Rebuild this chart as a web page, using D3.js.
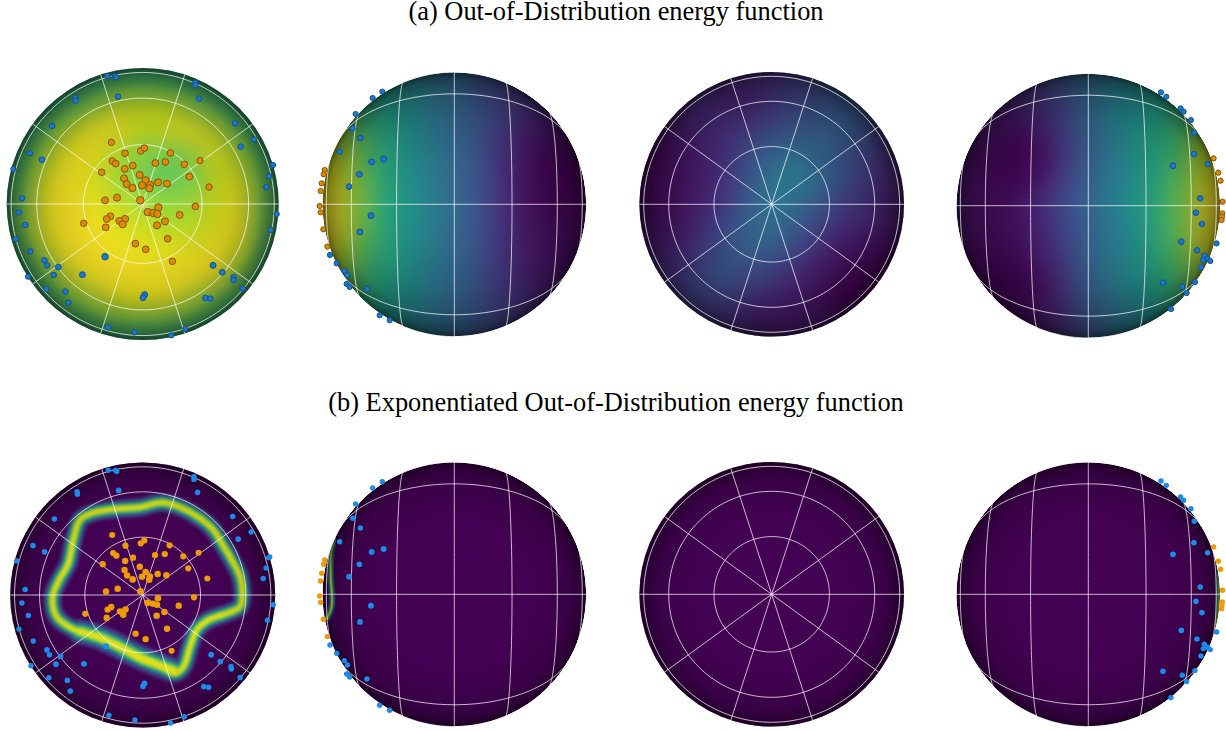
<!DOCTYPE html>
<html>
<head>
<meta charset="utf-8">
<script src="https://cdn.jsdelivr.net/npm/d3@7"></script>
<style>
  html, body { margin: 0; background: #fff; }
  svg { display: block; }
  text { font-family: "Liberation Serif", serif; fill: #000; }
</style>
</head>
<body>
<div id="chart"></div>
<script>
const titles = ['(a) Out-of-Distribution energy function', '(b) Exponentiated Out-of-Distribution energy function'];

// energy on a 13x13 lattice, in % of the colour range
const energyPolar = [
  [60,60,60,60,60,60,60,60,60,60,60,60,60],
  [60,60,60,60,64,70,72,70,64,60,60,60,60],
  [60,60,62,72,84,92,92,92,84,72,62,60,60],
  [60,60,74,92,99,98,92,94,99,92,74,60,60],
  [60,66,88,99,98,88,82,78,84,97,88,66,60],
  [60,74,96,100,95,86,80,76,80,92,96,74,60],
  [60,78,98,100,97,92,87,84,86,94,99,78,60],
  [60,78,98,100,100,97,93,90,91,96,100,76,60],
  [60,66,90,100,100,100,98,97,98,100,95,66,60],
  [60,60,74,94,100,100,100,100,100,98,78,60,60],
  [60,60,62,76,88,94,96,96,88,76,62,60,60],
  [60,60,60,60,66,72,74,72,66,60,60,60,60],
  [60,60,60,60,60,60,60,60,60,60,60,60,60]
];
const energyLeft = [
  [70,70,62,54,47,40,33,26,20,14,10,8,8],
  [70,70,62,54,47,40,33,26,20,14,10,8,8],
  [78,78,68,58,49,40,33,26,20,14,10,8,8],
  [88,88,74,61,51,41,33,25,17,8,4,3,3],
  [95,95,79,63,51,42,33,25,14,5,1,0,0],
  [98,98,82,64,52,42,33,25,14,4,0,0,0],
  [100,100,84,65,53,43,33,25,14,5,1,1,1],
  [100,100,82,64,53,42,33,25,14,6,3,2,2],
  [96,96,78,63,52,42,33,25,15,7,4,3,3],
  [88,88,72,61,51,41,33,25,16,9,5,4,4],
  [78,78,67,58,48,40,33,25,18,12,8,6,6],
  [70,70,60,52,45,38,32,25,20,15,10,8,8],
  [70,70,60,52,45,38,32,25,20,15,10,8,8]
];
const energyBack = [
  [14,14,16,14,12,12,14,16,20,22,20,14,14],
  [12,12,14,12,10,10,14,18,22,26,22,14,12],
  [6,6,10,12,10,10,16,22,26,30,26,14,10],
  [4,4,6,10,14,18,24,28,30,30,24,14,8],
  [2,2,4,8,14,24,32,36,32,26,20,12,6],
  [2,2,4,8,14,26,40,42,34,24,16,10,6],
  [2,2,4,10,16,28,38,34,26,18,14,8,6],
  [4,4,6,12,22,32,36,28,20,12,10,6,4],
  [8,8,10,18,26,30,28,20,12,6,3,2,2],
  [12,12,16,22,26,24,18,12,6,2,0,0,0],
  [14,14,18,20,20,14,10,8,4,0,0,2,4],
  [16,14,14,14,12,8,6,6,6,6,8,10,12],
  [18,16,14,14,12,8,8,8,8,8,10,12,14]
];
const energyRight = [
  [10,10,14,18,22,28,34,40,46,50,58,64,64],
  [10,10,12,14,18,26,34,42,48,53,62,70,70],
  [8,8,8,8,12,20,32,42,50,58,66,78,78],
  [8,6,4,2,6,18,30,42,52,61,72,88,88],
  [6,4,1,0,3,16,28,41,51,62,76,95,95],
  [6,4,2,1,6,20,30,41,51,64,80,98,98],
  [6,4,3,5,12,22,32,42,52,66,82,100,100],
  [6,4,3,4,10,20,30,41,51,66,82,100,100],
  [6,3,2,2,8,18,30,41,51,64,80,97,97],
  [6,3,0,0,4,16,30,41,50,61,74,90,90],
  [10,6,1,0,4,14,28,38,46,56,68,80,80],
  [14,10,6,4,6,14,26,36,44,50,60,70,70],
  [14,12,8,8,10,16,26,34,42,48,56,64,64]
];
const energyFlat = [[0]];

// points as read in each view's own units
const orangePolar = [[334,247],[375,280],[422,273],[433,264],[511,279],[600,302],[337,303],[347,311],[305,337],[374,327],[398,317],[466,309],[496,306],[553,313],[568,350],[419,345],[372,355],[437,361],[380,372],[397,384],[426,376],[450,375],[448,385],[474,367],[501,371],[627,381],[351,413],[315,421],[421,421],[475,442],[586,439],[443,456],[460,459],[472,462],[539,465],[331,469],[320,477],[375,477],[358,483],[368,493],[251,490],[317,502],[471,496],[495,484],[503,536],[406,551],[437,568],[517,604]];
const bluePolar = [[322,48],[344,48],[348,52],[586,68],[586,76],[226,114],[227,122],[354,110],[597,116],[156,198],[705,190],[762,238],[722,260],[90,280],[126,299],[40,327],[815,317],[819,315],[808,349],[799,381],[66,415],[56,457],[830,462],[76,495],[812,510],[47,537],[91,574],[133,601],[141,616],[175,621],[315,590],[161,645],[247,644],[639,616],[667,637],[84,650],[700,652],[701,660],[139,687],[196,695],[728,686],[205,728],[434,704],[429,713],[616,714],[631,716],[324,802],[404,817],[514,826],[556,807]];
const orangeLeft = [[44,330],[41,343],[35,370],[32,393],[29,438],[32,457],[40,508],[52,560]];
const blueLeft = [[217,95],[188,114],[137,162],[128,205],[151,234],[89,275],[221,297],[185,306],[148,343],[117,380],[183,467],[150,516],[60,585],[80,610],[103,632],[112,645],[110,672],[119,681],[171,687],[209,766],[239,781]];
const orangeRight = [[806,295],[820,338],[827,362],[833,425],[832,460],[831,470],[830,480]];
const blueRight = [[648,97],[664,110],[707,145],[716,155],[738,180],[748,218],[747,282],[788,312],[684,317],[766,415],[753,458],[771,492],[709,545],[815,550],[756,571],[778,587],[775,600],[788,596],[796,603],[768,622],[654,668],[750,666],[712,680],[725,699],[678,747]];

// the bright level set of the exponentiated energy
const contourPolar = [[485,158],[540,172],[600,205],[640,240],[665,280],[695,330],[720,380],[727,430],[720,470],[680,490],[625,510],[590,540],[570,590],[550,650],[525,670],[480,650],[420,628],[370,600],[320,575],[270,555],[215,535],[170,500],[158,440],[175,395],[205,340],[220,270],[240,210],[275,190],[340,178],[420,172]];
const contourBroad = [[240,545],[300,562],[350,585],[400,612],[460,638],[520,660]];
const contourLeft = [[70,265],[58,310],[57,380],[60,470],[45,510]];
const contourRight = [[812,300],[819,345],[820,420],[818,490],[810,540]];

const contourLevels = [16, 32, 52, 75, 96];

const P = 7; // camera distance, in sphere radii
const W = 1226, H = 731;

function cameraRaw(lambda, phi) {
  const cosc = Math.cos(phi) * Math.cos(lambda);
  const k = Math.sqrt(P * P - 1) / (P - cosc);
  return [k * Math.cos(phi) * Math.sin(lambda), k * Math.sin(phi)];
}

const color = d3.scaleSequential(d3.interpolateViridis).domain([0, 100]);

const polarUnits = { cx: 428, cy: 432, r: 408 };
const leftUnits = { cx: 433, cy: 433, r: 397 };
const rightUnits = { cx: 430, cy: 437, r: 397 };
const contourUnits = { cx: 428, cy: 435, r: 397 };

const panels = [
  { cx: 142.7, cy: 204, R: 136, view: 'polar', energy: energyPolar, units: polarUnits, orange: orangePolar, blue: bluePolar, edged: true },
  { cx: 454.3, cy: 204.3, R: 132.3, view: 'side', energy: energyLeft, units: leftUnits, orange: orangeLeft, blue: blueLeft, edged: true },
  { cx: 771.7, cy: 204.3, R: 132.3, view: 'polar', energy: energyBack, units: polarUnits, orange: [], blue: [], edged: true },
  { cx: 1088.3, cy: 205.7, R: 132.3, view: 'side', energy: energyRight, units: rightUnits, orange: orangeRight, blue: blueRight, edged: true },
  { cx: 142.7, cy: 595, R: 132.5, view: 'polar', energy: energyFlat, units: polarUnits, orange: orangePolar, blue: bluePolar, contour: contourPolar, contourExtra: contourBroad, widths: [19, 14, 11, 8, 5] },
  { cx: 454.3, cy: 594.3, R: 132.3, view: 'side', energy: energyFlat, units: leftUnits, orange: orangeLeft, blue: blueLeft, contour: contourLeft, widths: [7, 5, 3.5, 2.5, 1.2] },
  { cx: 771.7, cy: 594.3, R: 132.3, view: 'polar', energy: energyFlat, units: polarUnits, orange: [], blue: [] },
  { cx: 1088.3, cy: 594.3, R: 132.3, view: 'side', energy: energyFlat, units: rightUnits, orange: orangeRight, blue: blueRight, contour: contourRight, widths: [7, 5, 3.5, 2.5, 1.2] }
];

const svg = d3.select('#chart').append('svg').attr('width', W).attr('height', H);
const defs = svg.append('defs');

const blurFilter = (id, deviation) => defs.append('filter').attr('id', id)
  .attr('x', '-10%').attr('y', '-10%').attr('width', '120%').attr('height', '120%')
  .attr('color-interpolation-filters', 'sRGB')
  .append('feGaussianBlur').attr('stdDeviation', deviation);
blurFilter('smooth', 12);
blurFilter('soft', 1.5);
blurFilter('fine', 0.5);

// darkening towards the limb: stronger on the raw energy, milder on the exponentiated row
const limbStops = (id, stops) => {
  const grad = defs.append('radialGradient').attr('id', id);
  stops.forEach(([o, a]) => {
    grad.append('stop').attr('offset', o).attr('stop-color', '#000').attr('stop-opacity', a);
  });
};
limbStops('limb', [[0, 0], [0.35, 0.04], [0.65, 0.14], [0.85, 0.28], [0.95, 0.45], [1, 0.65]]);
limbStops('limbSoft', [[0, 0], [0.6, 0.03], [0.85, 0.15], [0.95, 0.35], [1, 0.6]]);

svg.selectAll('.title')
  .data(titles)
  .enter()
  .append('text')
  .attr('class', 'title')
  .attr('x', 616)
  .attr('y', (d, i) => i === 0 ? 20 : 411)
  .attr('text-anchor', 'middle')
  .attr('font-size', 26.4)
  .text(d => d);

panels.forEach((p, i) => drawSphere(p, i));

function drawSphere(p, i) {
  const g = svg.append('g').attr('class', 'sphere');
  const clipId = 'disk' + i;
  defs.append('clipPath').attr('id', clipId)
    .append('circle').attr('cx', p.cx).attr('cy', p.cy).attr('r', p.R);

  const inside = g.append('g').attr('clip-path', `url(#${clipId})`);

  // energy field: lattice cells, blurred
  const span = p.R * 1.18;
  const rows = d3.range(p.energy.length);
  const cols = d3.range(p.energy[0].length);
  const xCell = d3.scaleBand().domain(cols).range([p.cx - span, p.cx + span]);
  const yCell = d3.scaleBand().domain(rows).range([p.cy - span, p.cy + span]);
  const cells = rows.flatMap(r => cols.map(c => ({ r, c, v: p.energy[r][c] })));

  inside.append('g')
    .attr('filter', 'url(#smooth)')
    .selectAll('rect')
    .data(cells)
    .enter()
    .append('rect')
    .attr('x', d => xCell(d.c))
    .attr('y', d => yCell(d.r))
    .attr('width', xCell.bandwidth() + 0.5)
    .attr('height', yCell.bandwidth() + 0.5)
    .attr('fill', d => color(d.v));

  const ux = d3.scaleLinear().domain([p.units.cx - p.units.r, p.units.cx + p.units.r]).range([p.cx - p.R, p.cx + p.R]);
  const uy = d3.scaleLinear().domain([p.units.cy - p.units.r, p.units.cy + p.units.r]).range([p.cy - p.R, p.cy + p.R]);

  if (p.contour) {
    const closed = p.contour.length > 10;
    const cx = d3.scaleLinear().domain([contourUnits.cx - contourUnits.r, contourUnits.cx + contourUnits.r]).range([p.cx - p.R, p.cx + p.R]);
    const cy = d3.scaleLinear().domain([contourUnits.cy - contourUnits.r, contourUnits.cy + contourUnits.r]).range([p.cy - p.R, p.cy + p.R]);
    const line = d3.line().x(d => cx(d[0])).y(d => cy(d[1]))
      .curve(closed ? d3.curveCatmullRomClosed : d3.curveCatmullRom);
    const openLine = d3.line().x(d => cx(d[0])).y(d => cy(d[1])).curve(d3.curveCatmullRom);
    const widths = d3.scaleOrdinal().domain(contourLevels).range(p.widths);
    const band = inside.append('g').attr('filter', closed ? 'url(#soft)' : 'url(#fine)');
    contourLevels.forEach(level => {
      if (p.contourExtra) {
        band.append('path')
          .attr('d', openLine(p.contourExtra))
          .attr('fill', 'none')
          .attr('stroke', color(level))
          .attr('stroke-linecap', 'round')
          .attr('stroke-width', widths(level) * 1.35);
      }
      band.append('path')
        .attr('d', line(p.contour))
        .attr('fill', 'none')
        .attr('stroke', color(level))
        .attr('stroke-width', widths(level));
    });
  }

  g.append('circle').attr('cx', p.cx).attr('cy', p.cy).attr('r', p.R)
    .attr('fill', p.energy === energyFlat ? 'url(#limbSoft)' : 'url(#limb)');

  // grid on the sphere
  const projection = d3.geoProjection(cameraRaw)
    .scale(p.R)
    .translate([p.cx, p.cy])
    .clipAngle(Math.acos(1 / P) * 180 / Math.PI)
    .precision(0.3);
  const path = d3.geoPath(projection);
  const gridStyle = sel => sel.attr('fill', 'none').attr('stroke', '#fff')
    .attr('stroke-opacity', 0.72).attr('stroke-width', 1);

  if (p.view === 'polar') {
    projection.rotate([90, -90]);
    const graticule = d3.geoGraticule()
      .extent([[-180, -90], [180, 90]])
      .step([36, 22.5])
      .precision(2);
    g.append('path').datum(graticule()).attr('d', path).call(gridStyle);
  } else {
    const rings = [
      { center: [90, 0], radius: 90 },
      { center: [0, 90], radius: 90 },
      ...[67.5, 45, 22.5].flatMap(radius => [{ center: [90, 0], radius }, { center: [-90, 0], radius }]),
      { center: [180, 61], radius: 69 },
      { center: [180, -61], radius: 69 }
    ];
    g.selectAll('.ring')
      .data(rings)
      .enter()
      .append('path')
      .attr('class', 'ring')
      .attr('d', d => path(d3.geoCircle().center(d.center).radius(d.radius).precision(2)()))
      .call(gridStyle);
  }

  // points shrink towards the limb
  const size = d3.scaleLinear().domain([0, 1]).range([p.edged ? 3.8 : 3.4, p.edged ? 2.6 : 2.7]);
  const radius = d => size(Math.min(1, Math.hypot(ux(d[0]) - p.cx, uy(d[1]) - p.cy) / p.R));

  const drawPoints = (data, fill, edge) => {
    g.append('g').selectAll('circle')
      .data(data)
      .enter()
      .append('circle')
      .attr('cx', d => ux(d[0]))
      .attr('cy', d => uy(d[1]))
      .attr('r', radius)
      .attr('fill', fill)
      .attr('stroke', p.edged ? edge : 'none')
      .attr('stroke-width', 1);
  };
  drawPoints(p.orange, p.edged ? '#e08a00' : '#ee9c05', '#7d5612');
  drawPoints(p.blue, p.edged ? '#1878d8' : '#1c8ae8', '#1d4f80');
}
</script>
</body>
</html>
